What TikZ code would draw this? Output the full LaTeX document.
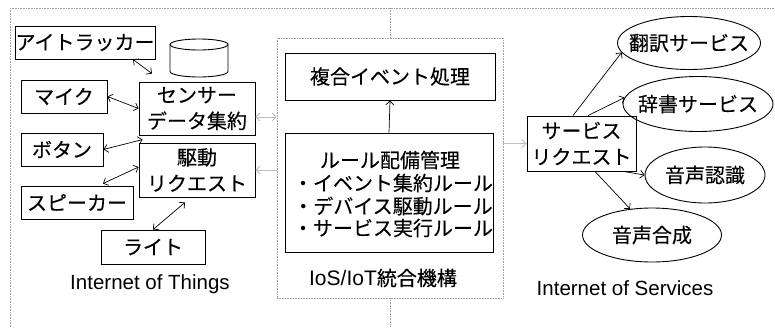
\documentclass[tikz,border=0pt]{standalone}
\usepackage{fontspec}
\setmainfont{Liberation Sans}
\newfontfamily\jp[FakeBold=0.3]{Noto Sans CJK JP}
\usetikzlibrary{arrows.meta,shapes.geometric,calc}
\begin{document}
\begin{tikzpicture}[x=1pt,y=-1pt,
  box/.style={draw,line width=0.9pt,inner sep=0pt,font=\jp\fontsize{20}{26}\selectfont,align=center},
  oval/.style={draw,ellipse,line width=0.9pt,inner sep=0pt,font=\jp\fontsize{20}{24}\selectfont},
  lbl/.style={inner sep=0pt,font=\fontsize{20.5}{24}\selectfont},
  frame/.style={draw=gray!75,line width=0.8pt,dash pattern=on 0.8pt off 0.8pt},
  tip/.tip={Straight Barb[length=4pt,width=8pt]},
  dar/.style={line width=0.7pt,tip-tip},
  sar/.style={line width=0.7pt,-tip},
  gdar/.style={draw=gray!50,line width=0.9pt,tip-tip},
  gsar/.style={draw=gray!50,line width=0.9pt,-tip}
]
\useasboundingbox (0,0) rectangle (775,327);
% frame lines
\coordinate (tl) at (10,8);
\coordinate (tr) at (775,8);
\coordinate (bl) at (10,327);
\draw[frame] (tl) -- (tr);
\draw[frame] (tl) -- (bl);
\node[frame,minimum width=226pt,minimum height=260pt,inner sep=0pt] (mid) at (390,168) {};
\draw[frame] (mid.north) -- (mid.north |- tl);
\draw[frame] (mid.south) -- (mid.south |- bl);

% Internet of Things side
\node[box,minimum width=140pt,minimum height=33pt] (eye) at (85,42.5) {アイトラッカー};
\draw[line width=0.9pt] (199,44.5) ellipse [x radius=29pt, y radius=5.5pt];
\draw[line width=0.9pt] (170,44.5) -- (170,71.5) arc[start angle=180, end angle=360, x radius=29pt, y radius=5.5pt] -- (228,44.5);
\node[box,minimum width=86pt,minimum height=33pt] (mic) at (64,96.5) {マイク};
\node[box,minimum width=116pt,minimum height=53pt] (sensor) at (197,108.5) {センサー\\データ集約};
\node[box,minimum width=82pt,minimum height=33pt] (button) at (62,149.5) {ボタン};
\node[box,minimum width=116pt,minimum height=54pt] (drive) at (197,170) {駆動\\リクエスト};
\node[box,minimum width=112pt,minimum height=33pt] (speaker) at (77,202.5) {スピーカー};
\node[box,minimum width=104pt,minimum height=34pt] (light) at (153,247) {ライト};
\node[lbl] (iot) at (150,284) {Internet of Things};

\draw[dar] ([xshift=48pt]eye.south) -- ([xshift=-45pt,yshift=8pt]sensor.north);
\draw[dar] (mic.east) -- (sensor.west);
\draw[dar] (button.east) -- ([xshift=4pt,yshift=3pt]drive.north west);
\draw[dar] ([xshift=26pt,yshift=2pt]speaker.north) -- ([yshift=3pt]drive.west);
\draw[dar] (light.north) -- ([xshift=-12pt,yshift=-5pt]drive.south);

% middle
\node[box,minimum width=210pt,minimum height=47pt] (cep) at (390,76.5) {複合イベント処理};
\node[box,minimum width=208pt,minimum height=119pt] (rule) at (389,192.5) {};
\node[inner sep=0pt,font=\jp\fontsize{20}{24}\selectfont] (r0) at (390,160) {ルール配備管理};
\node[inner sep=0pt,font=\jp\fontsize{20}{24}\selectfont] (r1) at (393,183) {・イベント集約ルール};
\node[inner sep=0pt,font=\jp\fontsize{20}{24}\selectfont] (r2) at (393,206) {・デバイス駆動ルール};
\node[inner sep=0pt,font=\jp\fontsize{20}{24}\selectfont] (r3) at (393,228) {・サービス実行ルール};
\node[inner sep=0pt,font=\fontsize{21}{24}\selectfont] (ios) at (383,278) {IoS/IoT{\jp\fontsize{20}{24}\selectfont 統合機構}};
\draw[sar] (rule.north) -- (cep.south);

\draw[gdar] ([yshift=-8.5pt]sensor.east) -- ([yshift=-8.5pt]sensor.east -| mid.west);
\draw[gsar] (drive.east -| mid.west) -- (drive.east);

% Internet of Services side
\node[box,minimum width=109pt,minimum height=55pt] (req) at (581.5,143.5) {サービス\\リクエスト};
\draw[gsar] (req.west -| mid.east) -- (req.west);
\node[oval,minimum width=143pt,minimum height=53pt] (tr1) at (689,43) {\makebox[0pt]{翻訳サービス}};
\node[oval,minimum width=150pt,minimum height=55pt] (dict) at (698,104) {\makebox[0pt]{辞書サービス}};
\node[oval,minimum width=120pt,minimum height=56pt] (asr) at (705,175) {\makebox[0pt]{音声認識}};
\node[oval,minimum width=139pt,minimum height=54pt] (tts) at (652,235) {\makebox[0pt]{音声合成}};
\node[lbl] (iosl) at (625,288) {Internet of Services};

\draw[sar] ([xshift=-8.5pt]req.north) -- (tr1.188);
\draw[sar] ([xshift=6.5pt]req.north) -- (dict.175);
\draw[sar] ([xshift=-13pt]req.south east) -- (asr.west);
\draw[sar] ([xshift=13.5pt]req.south) -- (tts.130);
\end{tikzpicture}
\end{document}
